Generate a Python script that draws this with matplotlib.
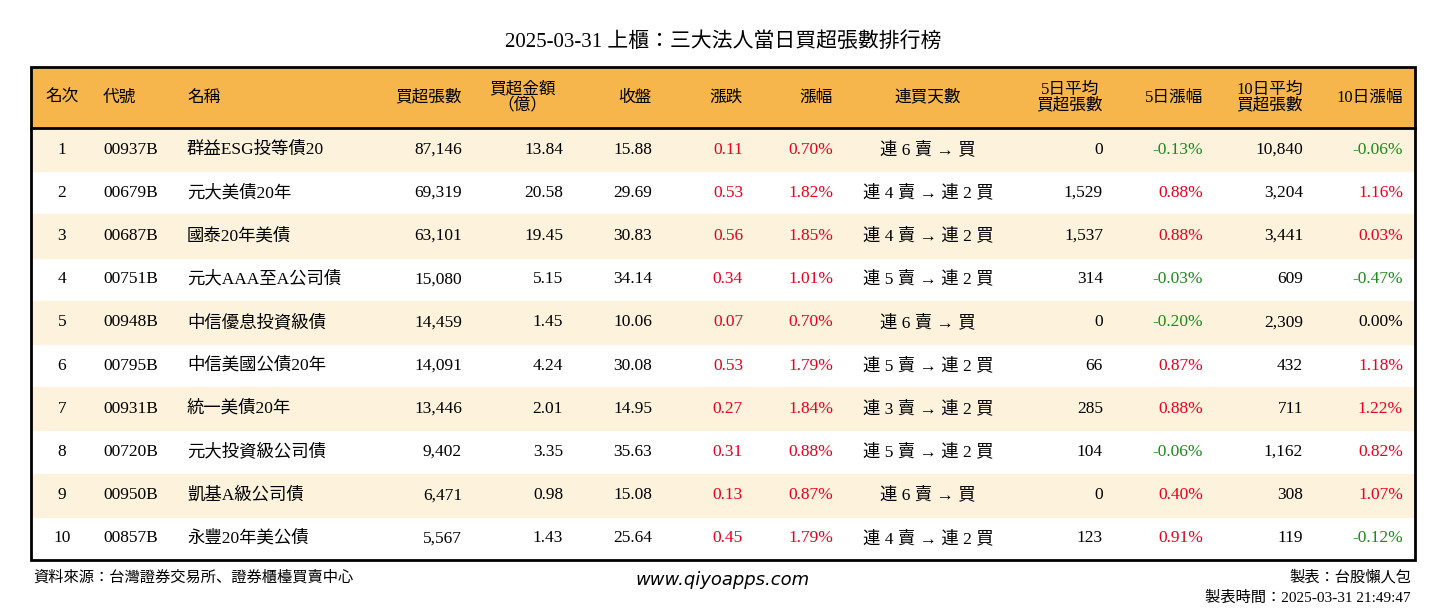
import matplotlib
matplotlib.use("Agg")
import matplotlib.pyplot as plt
from matplotlib.patches import Rectangle
from matplotlib import font_manager

names_avail = {f.name for f in font_manager.fontManager.ttflist}
CJK = [n for n in ["Noto Sans CJK TC", "Noto Sans CJK JP", "Noto Sans CJK SC", "Noto Sans CJK KR"] if n in names_avail]
FONT = ["Liberation Serif"] + CJK

headers = ["名次", "代號", "名稱", "買超張數", "買超金額\n（億）", "收盤", "漲跌", "漲幅", "連買天數",
           "5日平均\n買超張數", "5日漲幅", "10日平均\n買超張數", "10日漲幅"]
ranks = [1, 2, 3, 4, 5, 6, 7, 8, 9, 10]
codes = ["00937B", "00679B", "00687B", "00751B", "00948B", "00795B", "00931B", "00720B", "00950B", "00857B"]
names = ["群益ESG投等債20", "元大美債20年", "國泰20年美債", "元大AAA至A公司債", "中信優息投資級債",
         "中信美國公債20年", "統一美債20年", "元大投資級公司債", "凱基A級公司債", "永豐20年美公債"]
net_buy = [87146, 69319, 63101, 15080, 14459, 14091, 13446, 9402, 6471, 5567]
amount = [13.84, 20.58, 19.45, 5.15, 1.45, 4.24, 2.01, 3.35, 0.98, 1.43]
close = [15.88, 29.69, 30.83, 34.14, 10.06, 30.08, 14.95, 35.63, 15.08, 25.64]
change = [0.11, 0.53, 0.56, 0.34, 0.07, 0.53, 0.27, 0.31, 0.13, 0.45]
pct = [0.70, 1.82, 1.85, 1.01, 0.70, 1.79, 1.84, 0.88, 0.87, 1.79]
streak = ["連 6 賣 → 買", "連 4 賣 → 連 2 買", "連 4 賣 → 連 2 買", "連 5 賣 → 連 2 買", "連 6 賣 → 買",
          "連 5 賣 → 連 2 買", "連 3 賣 → 連 2 買", "連 5 賣 → 連 2 買", "連 6 賣 → 買", "連 4 賣 → 連 2 買"]
avg5 = [0, 1529, 1537, 314, 0, 66, 285, 104, 0, 123]
pct5 = [-0.13, 0.88, 0.88, -0.03, -0.20, 0.87, 0.88, -0.06, 0.40, 0.91]
avg10 = [10840, 3204, 3441, 609, 2309, 432, 711, 1162, 308, 119]
pct10 = [-0.06, 1.16, 0.03, -0.47, 0.00, 1.18, 1.22, 0.82, 1.07, -0.12]

W, H = 1446, 612
fig = plt.figure(figsize=(14.46, 6.12), dpi=100)
ax = fig.add_axes([0, 0, 1, 1])
ax.set_xlim(0, W); ax.set_ylim(H, 0); ax.axis("off")

RED, GREEN = "#E8001C", "#1A8A1A"
def col(v):
    return RED if v > 0 else (GREEN if v < 0 else "black")

L, R, T, HB = 31, 1415, 67, 128
rh = 43.2
ax.add_patch(Rectangle((L, T), R - L, HB - T, color="#F7B64C", zorder=0))
for i in range(10):
    y0 = HB + i * rh
    if i % 2 == 0:
        ax.add_patch(Rectangle((L, y0), R - L, rh, color="#FDF3DC", zorder=0))
bottom = HB + 10 * rh
ax.add_patch(Rectangle((L, T), R - L, bottom - T, fill=False, lw=2, ec="black", zorder=3))
ax.plot([L, R], [HB, HB], color="black", lw=2, zorder=3)

ax.text(W / 2, 42, "2025-03-31 上櫃：三大法人當日買超張數排行榜", ha="center", va="center",
        fontsize=15, family=FONT)

hpos = [(62, "center"), (103, "left"), (187, "left"), (462, "right"), (522, "center"), (652, "right"),
        (743, "right"), (833, "right"), (928, "center"), (1103, "right"), (1203, "right"),
        (1303, "right"), (1403, "right")]
for (x, ha), h in zip(hpos, headers):
    ax.text(x, (T + HB) / 2, h, ha=ha, va="center", fontsize=12, family=FONT, linespacing=1.0,
            multialignment="center")

vpos = [(62, "center"), (103, "left"), (187, "left"), (462, "right"), (563, "right"), (652, "right"),
        (743, "right"), (833, "right"), (928, "center"), (1103, "right"), (1203, "right"),
        (1303, "right"), (1403, "right")]
for i in range(10):
    yc = HB + (i + 0.5) * rh
    cells = [(str(ranks[i]), "black"), (codes[i], "black"), (names[i], "black"),
             (f"{net_buy[i]:,}", "black"), (f"{amount[i]:.2f}", "black"), (f"{close[i]:.2f}", "black"),
             (f"{change[i]:.2f}", col(change[i])), (f"{pct[i]:.2f}%", col(pct[i])),
             (streak[i], "black"), (f"{avg5[i]:,}", "black"), (f"{pct5[i]:.2f}%", col(pct5[i])),
             (f"{avg10[i]:,}", "black"), (f"{pct10[i]:.2f}%", col(pct10[i]))]
    for (x, ha), (t, c) in zip(vpos, cells):
        ax.text(x, yc, t, ha=ha, va="center", fontsize=12.5, family=FONT, color=c)

ax.text(33, 577, "資料來源：台灣證券交易所、證券櫃檯買賣中心", ha="left", va="center", fontsize=11, family=FONT)
ax.text(723, 580, "www.qiyoapps.com", ha="center", va="center", fontsize=13, style="italic",
        family=["DejaVu Sans"])
ax.text(1411, 577, "製表：台股懶人包", ha="right", va="center", fontsize=11, family=FONT)
ax.text(1411, 598, "製表時間：2025-03-31 21:49:47", ha="right", va="center", fontsize=11, family=FONT)

fig.savefig("out.png", dpi=100)
